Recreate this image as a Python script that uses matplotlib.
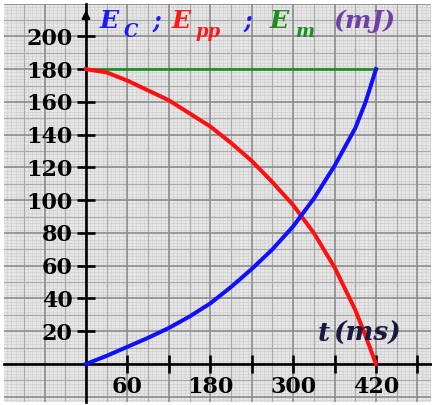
import numpy as np
import matplotlib
matplotlib.use('Agg')
import matplotlib.pyplot as plt

# valeurs
t = [0, 30, 60, 90, 120, 150, 180, 210, 240, 270, 300, 330, 360, 390, 405, 420]
Ec = [0, 5, 10.5, 16, 22, 29, 37, 47, 58, 70, 84, 101, 121, 144, 160, 180]
Epp = [180, 178, 173, 167, 161, 153, 145, 135, 124, 111, 97, 80, 59, 33, 17, 0]
Em = [180] * len(t)

x_ticks = [60, 120, 180, 240, 300, 360, 420, 480]
x_labels = ['60', '', '180', '', '300', '', '420', '']
y_ticks = [20, 40, 60, 80, 100, 120, 140, 160, 180, 200]

W, H = 432, 405
fig = plt.figure(figsize=(W / 100, H / 100), dpi=100)
fig.patch.set_facecolor('white')
# boite des axes en pixels
L, R, T, B = 4, 431, 4, 402
ax = fig.add_axes([L / W, 1 - B / H, (R - L) / W, (B - T) / H])

# echelle : t=0 -> 86 px, 420 -> 376 px ; v=0 -> 364 px, 1 unite = 1.638 px
sx = 290 / 420
sy = 1.638
ax.set_xlim((L - 86) / sx, (R - 86) / sx)
ax.set_ylim((364 - B) / sy, (364 - T) / sy)
ax.set_facecolor('#e6e6e6')

# papier millimetre
x0, x1 = ax.get_xlim()
y0, y1 = ax.get_ylim()
for v in np.arange(-120, 501, 6):
    ax.axvline(v, color='#d0d0d0', lw=0.5, zorder=0)
for v in np.arange(-24, 221, 2):
    ax.axhline(v, color='#d0d0d0', lw=0.5, zorder=0)
for v in np.arange(-90, 501, 60):
    ax.axvline(v, color='#ababab', lw=0.9, zorder=0)
for v in np.arange(-10, 221, 20):
    ax.axhline(v, color='#ababab', lw=0.9, zorder=0)
for v in np.arange(-120, 501, 60):
    ax.axvline(v, color='#8c8c8c', lw=1.2, zorder=0)
for v in np.arange(-20, 221, 20):
    ax.axhline(v, color='#8c8c8c', lw=1.2, zorder=0)

# axes au zero
for s in ['top', 'right']:
    ax.spines[s].set_visible(False)
ax.spines['left'].set_position(('data', 0))
ax.spines['bottom'].set_position(('data', 0))
ax.spines['left'].set_linewidth(1.9)
ax.spines['bottom'].set_linewidth(1.9)
ax.spines['left'].set_zorder(2)
ax.spines['bottom'].set_zorder(2)
ax.annotate('', xy=(0, y1 - 2), xytext=(0, y1 - 12),
            arrowprops=dict(arrowstyle='-|>', color='black', lw=1.5,
                            mutation_scale=12), zorder=3)

ax.set_xticks(x_ticks, labels=x_labels)
ax.set_yticks(y_ticks, labels=[str(v) for v in y_ticks])
for lab in ax.get_xticklabels() + ax.get_yticklabels():
    lab.set_fontfamily('DejaVu Serif')
    lab.set_fontweight('bold')
    lab.set_fontsize(16)
ax.tick_params(axis='both', direction='inout', length=13, width=1.9,
               colors='black')
ax.tick_params(axis='y', pad=3)
ax.tick_params(axis='x', pad=2)

# courbes
ax.plot(t, Em, color='#1a901a', lw=1.9, zorder=4)
ax.plot(t, Epp, color='#ff1010', lw=2.9, zorder=5)
ax.plot(t, Ec, color='#1010ff', lw=2.9, zorder=5)

# titre en morceaux colores
def ptxt(x, y, s, color, size, style='italic'):
    fig.text(x / W, 1 - y / H, s, color=color, fontsize=size,
             family='DejaVu Serif', weight='bold', style=style,
             ha='left', va='baseline')

ptxt(100, 28, 'E', '#1a1aff', 18)
ptxt(124, 37, 'C', '#1a1aff', 13)
ptxt(153, 28, ';', '#1a1aff', 17)
ptxt(172, 28, 'E', '#ff1a1a', 18)
ptxt(196, 37, 'pp', '#ff1a1a', 13)
ptxt(244, 28, ';', '#1a1aff', 17)
ptxt(270, 28, 'E', '#1a8f1a', 18)
ptxt(296, 37, 'm', '#1a8f1a', 13)
ptxt(333, 28, '(mJ)', '#7040a8', 18)

ptxt(318, 341, 't', '#1a1a40', 19)
ptxt(333, 341, '(ms)', '#1a1a40', 19)

fig.savefig('out.png', dpi=100)
